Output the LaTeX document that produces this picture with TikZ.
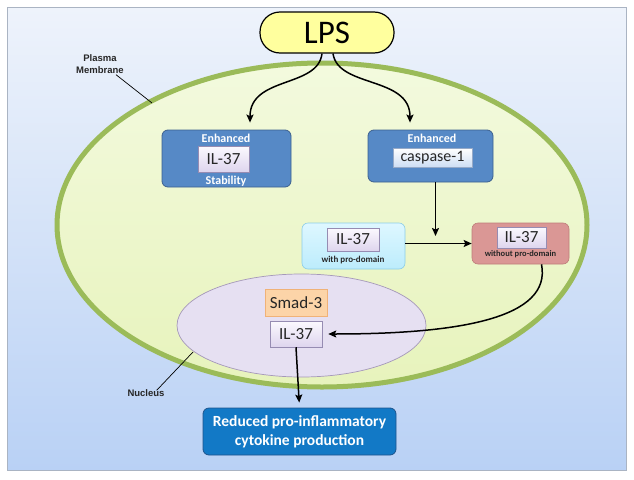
\documentclass[tikz,border=0pt]{standalone}
\usepackage{fontspec}
\setmainfont{Carlito}
\newfontfamily\labelfont{Liberation Sans}
\usetikzlibrary{arrows.meta,positioning,shapes.geometric}
\tikzset{>={Stealth[inset=1.5pt,length=8pt,width=7pt]}}

\definecolor{panelTop}{RGB}{238,243,251}
\definecolor{panelBot}{RGB}{185,209,245}
\definecolor{cellTop}{RGB}{243,250,222}
\definecolor{cellBot}{RGB}{231,243,188}
\definecolor{cellLine}{RGB}{155,187,89}
\definecolor{enhBlue}{RGB}{86,137,198}
\definecolor{enhLine}{RGB}{60,96,142}
\definecolor{resBlue}{RGB}{18,121,198}
\definecolor{resLine}{RGB}{30,84,140}
\definecolor{lavTop}{RGB}{251,249,254}
\definecolor{lavBot}{RGB}{222,213,238}
\definecolor{lavLine}{RGB}{150,140,178}
\definecolor{textDark}{RGB}{38,38,38}

\tikzset{
  lpsbox/.style={draw=black, line width=1.2pt, fill={rgb,255:red,255;green,255;blue,158},
    rounded corners=20pt, minimum width=134, minimum height=41,
    font=\fontsize{33}{36}\selectfont},
  bluebox/.style={draw=enhLine, line width=0.8pt, fill=enhBlue, rounded corners=6pt},
  whitelabel/.style={text=white, font=\bfseries\fontsize{12}{14}\selectfont, inner sep=0pt},
  innerbox/.style={draw=lavLine, line width=0.5pt, top color=lavTop, bottom color=lavBot,
    text=textDark, font=\fontsize{17}{19}\selectfont, inner sep=0pt},
  smalllabel/.style={text=textDark, font=\bfseries\fontsize{9}{10}\selectfont, inner sep=0pt},
  notelabel/.style={text=textDark, font=\labelfont\bfseries\fontsize{9.5}{12}\selectfont,
    align=center, inner sep=1pt},
  link/.style={->, line width=1.5pt}
}

\begin{document}
\begin{tikzpicture}[x=1pt,y=1pt,yscale=-1]
\useasboundingbox (0,0) rectangle (634,479);

%Shape: Rectangle (panel)
\shade [top color=panelTop, bottom color=panelBot] (7,7) rectangle (626,470);
\draw [draw={rgb,255:red,170;green,180;blue,195}, line width=0.6pt] (7,7) rectangle (626,470);

%Shape: Ellipse (cell)
\shade [top color=cellTop, bottom color=cellBot] (322,225) ellipse [x radius=265, y radius=162];
\draw [draw=cellLine, line width=5pt] (322,225) ellipse [x radius=265, y radius=162];

%Shape: Ellipse (nucleus)
\draw [draw={rgb,255:red,165;green,152;blue,185}, line width=0.7pt,
  fill={rgb,255:red,230;green,224;blue,242}] (301.5,325.5) ellipse [x radius=124.5, y radius=51.5];

%LPS
\node [lpsbox] (lps) at (327,32.5) {LPS};

%Enhanced IL-37 stability
\node [bluebox, minimum width=129, minimum height=57] (stab) at (226.5,158.5) {};
\node [innerbox, minimum width=51, minimum height=26] (stabil) at (223.5,159) {IL-37};
\node [whitelabel] (stabtop) at (226,138) {Enhanced};
\node [whitelabel] (stabbot) at (226,181.5) {Stability};

%Enhanced caspase-1
\node [bluebox, minimum width=125, minimum height=52] (casp) at (430.5,156) {};
\node [innerbox, top color=white, bottom color={rgb,255:red,205;green,222;blue,244},
  draw={rgb,255:red,150;green,170;blue,200}, minimum width=79, minimum height=19,
  font=\fontsize{16}{18}\selectfont] (caspin) at (432.5,157.5) {caspase-1};
\node [whitelabel] (casptop) at (432,138) {Enhanced};

%IL-37 with pro-domain
\node [draw={rgb,255:red,140;green,205;blue,232}, line width=0.6pt, rounded corners=6pt,
  top color={rgb,255:red,222;green,247;blue,255}, bottom color={rgb,255:red,188;green,236;blue,252},
  minimum width=103, minimum height=46] (pro) at (353.5,246) {};
\node [innerbox, minimum width=52, minimum height=23] (proil) at (353,239.5) {IL-37};
\node [smalllabel] (protxt) at (353,260.5) {with pro-domain};

%IL-37 without pro-domain
\node [draw={rgb,255:red,190;green,125;blue,122}, line width=0.6pt, rounded corners=6pt,
  fill={rgb,255:red,218;green,151;blue,149}, minimum width=97, minimum height=41] (wo) at (520.5,243.5) {};
\node [innerbox, minimum width=49, minimum height=21] (woil) at (521.5,237.5) {IL-37};
\node [smalllabel, font=\bfseries\fontsize{8.5}{10}\selectfont] (wotxt) at (520.5,254.5) {without pro-domain};

%Nucleus content
\node [draw={rgb,255:red,240;green,178;blue,120}, line width=0.5pt,
  fill={rgb,255:red,252;green,212;blue,168}, text=textDark, font=\fontsize{17}{19}\selectfont,
  minimum width=62, minimum height=27, inner sep=0pt] (smad) at (296,302.5) {Smad-3};
\node [innerbox, minimum width=52, minimum height=26] (nucil) at (296,334) {IL-37};

%Result
\node [draw=resLine, line width=0.8pt, fill=resBlue, rounded corners=6pt, text=white,
  font=\bfseries\fontsize{15.5}{19}\selectfont, align=center,
  minimum width=193, minimum height=47] (res) at (299.5,431.5)
  {Reduced pro-inflammatory\\cytokine production};

%Labels
\node [notelabel] (pm) at (100,64) {Plasma\\Membrane};
\node [notelabel] (nl) at (146,393) {Nucleus};
\coordinate (pmend) at (152,103);
\coordinate (nlend) at (193,352);
\coordinate (meet) at (435.5,236);
\draw [line width=0.7pt] ([xshift=16]pm.south) -- (pmend);
\draw [line width=0.7pt] ([xshift=-9,yshift=2]nl.north east) -- (nlend);

%Connectors
\draw [link, shorten >=7pt] ([xshift=-5]lps.south) .. controls (318,88) and (250,76) .. ([xshift=23.5]stab.north);
\draw [link, shorten >=7pt] ([xshift=6]lps.south) .. controls (338,88) and (410,76) .. ([xshift=-20.5]casp.north);
\draw [link] ([xshift=5]casp.south) -- (meet);
\draw [link] (pro.east |- wo.west) -- (wo.west);
\draw [link, shorten >=6pt] ([xshift=21]wo.south) .. controls (552,318) and (460,334) .. (nucil.east);
\draw [link, shorten >=5pt] (nucil.south) -- (res.north);
\end{tikzpicture}
\end{document}
